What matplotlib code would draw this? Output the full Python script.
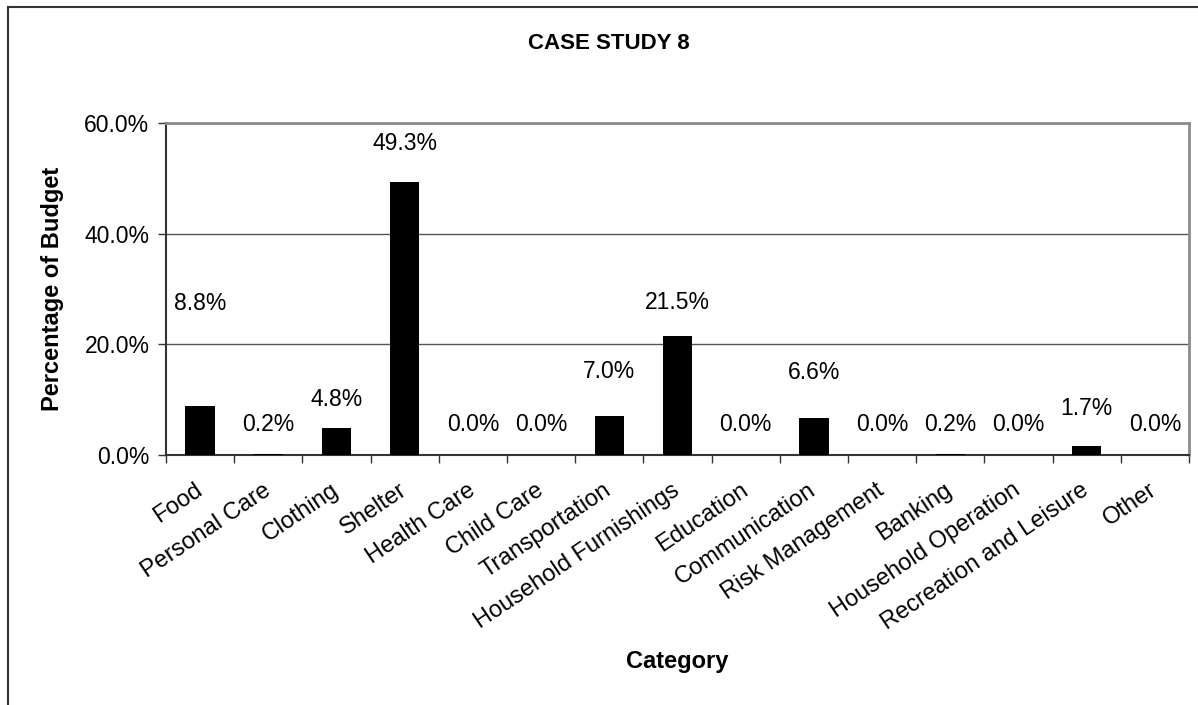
import numpy as np
import matplotlib
matplotlib.use("Agg")
from matplotlib import pyplot as plt
from matplotlib.lines import Line2D
from matplotlib.ticker import FixedLocator, PercentFormatter

plt.rcParams['font.family'] = ['Liberation Sans', 'DejaVu Sans']

# Presupuesto por categoria (%)
categorias = ['Food', 'Personal Care', 'Clothing', 'Shelter', 'Health Care', 'Child Care',
              'Transportation', 'Household Furnishings', 'Education', 'Communication',
              'Risk Management', 'Banking', 'Household Operation', 'Recreation and Leisure', 'Other']
porcentajes = [8.8, 0.2, 4.8, 49.3, 0.0, 0.0, 7.0, 21.5, 0.0, 6.6, 0.0, 0.2, 0.0, 1.7, 0.0]
y_ticks = [0, 20, 40, 60]

# Separacion (en puntos) entre la punta de cada barra y el centro de su etiqueta
desplaz_etiquetas = [74, 21, 21, 28, 22, 22, 32, 24, 22, 33, 22, 21, 22, 27, 22]

fig = plt.figure(figsize = (11.98, 7.05), dpi = 100)
ax = fig.add_axes([0.1386, 0.3546, 0.8539, 0.4709])

x = np.arange(len(categorias))
barras = ax.bar(x, porcentajes, width = 0.43, color = 'black', zorder = 3)

# Etiquetas de valor encima de cada barra
for xi, v, d in zip(x, porcentajes, desplaz_etiquetas):
    ax.annotate('%.1f%%' % v, xy = (xi, v), xytext = (0, d), textcoords = 'offset points',
                ha = 'center', va = 'center', fontsize = 16.5)

ax.set_xlim(-0.5, len(categorias) - 0.5)
ax.set_ylim(0, 60)
ax.yaxis.set_major_locator(FixedLocator(y_ticks))
ax.yaxis.set_major_formatter(PercentFormatter(decimals = 1))
ax.grid(axis = 'y', color = '#555555', linewidth = 1, zorder = 0)

# Marcas del eje x entre categorias
ax.set_xticks(x)
ax.set_xticklabels(categorias, rotation = 34, ha = 'right', va = 'center', rotation_mode = 'anchor', fontsize = 17)
ax.tick_params(axis = 'x', which = 'major', length = 0, pad = 24)
ax.set_xticks(np.arange(-0.5, len(categorias)), minor = True)
ax.tick_params(axis = 'x', which = 'minor', length = 6, width = 1, color = '#333333', direction = 'out')
ax.tick_params(axis = 'y', length = 6, width = 1, color = '#333333', labelsize = 16.5, pad = 6)

for lado in ['top', 'right']:
    ax.spines[lado].set_color('#8c8c8c')
    ax.spines[lado].set_linewidth(2)
for lado in ['left', 'bottom']:
    ax.spines[lado].set_color('#333333')
    ax.spines[lado].set_linewidth(1.5)

fig.text(0.508, 0.939, 'CASE STUDY 8', ha = 'center', va = 'center', fontsize = 16, fontweight = 'bold')
fig.text(0.044, 0.59, 'Percentage of Budget', ha = 'center', va = 'center', rotation = 90,
         fontsize = 17, fontweight = 'bold')
fig.text(0.565, 0.061, 'Category', ha = 'center', va = 'center', fontsize = 17, fontweight = 'bold')

# Borde del area del grafico
fig.add_artist(Line2D([0.0068, 0.0068], [0, 0.990], color = '#333333', linewidth = 1.5))
fig.add_artist(Line2D([0.0068, 1.0], [0.990, 0.990], color = '#333333', linewidth = 1.5))

fig.savefig('out.png', dpi = 100)
